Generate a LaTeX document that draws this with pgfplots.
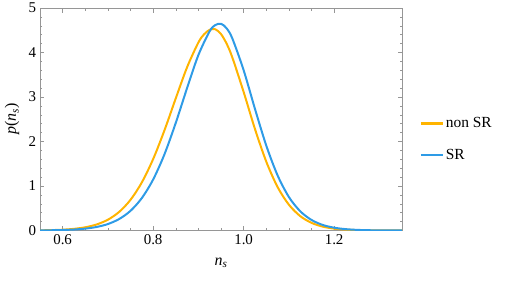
\documentclass[border=0pt]{standalone}
\usepackage{pgfplots}
\pgfplotsset{compat=1.18}
\usepackage{fontspec}
\setmainfont{Liberation Serif}
\definecolor{nonsr}{RGB}{255,180,0}
\definecolor{sr}{RGB}{46,155,230}
\definecolor{frame}{RGB}{150,150,150}
\begin{document}
\begin{tikzpicture}
\begin{axis}[
  scale only axis,
  width=362bp, height=222.5bp,
  at={(0,0)}, anchor=south west,
  xmin=0.55, xmax=1.35, ymin=0, ymax=5,
  xtick={0.6,0.8,1.0,1.2},
  xticklabels={0.6,0.8,1.0,1.2},
  minor x tick num=3,
  ytick={0,1,2,3,4,5},
  minor y tick num=4,
  tick align=inside,
  major tick length=4.5bp,
  minor tick length=2.5bp,
  axis line style={frame, line width=0.6pt},
  every tick/.style={frame, line width=0.5pt},
  /pgf/number format/assume math mode=true,
  tick label style={font=\fontsize{15}{17}\selectfont, text=black},
  xticklabel style={yshift=-1bp},
  yticklabel style={xshift=-0.5bp},
  xlabel={\textit{n}\textsubscript{\textit{s}}},
  ylabel={\textit{p}(\textit{n}\textsubscript{\textit{s}})},
  label style={font=\fontsize{16}{18}\selectfont},
  x label style={at={(axis description cs:0.5,-0.146)}, anchor=center},
  y label style={at={(axis description cs:-0.077,0.5)}, anchor=center, rotate=0},
  legend style={at={(rel axis cs:1.04,0.41)}, anchor=west, draw=none, fill=none,
    font=\fontsize{15.5}{17}\selectfont, row sep=16bp},
  legend cell align=left,
  legend image code/.code={\draw[#1, line width=2.2pt] (0bp,0bp) -- (22bp,0bp);},
]
\addplot[nonsr, line width=2pt, smooth] coordinates {
(0.55,0.004) (0.575,0.0088) (0.6,0.018) (0.625,0.037) (0.65,0.072) (0.675,0.135)
(0.7,0.242) (0.725,0.418) (0.75,0.689) (0.775,1.080) (0.8,1.604) (0.825,2.250)
(0.85,2.969) (0.875,3.668) (0.9,4.225) (0.9125,4.408) (0.925,4.511) (0.9375,4.522)
(0.95,4.414) (0.9625,4.197)
(0.975,3.890) (1.0,3.114) (1.025,2.283) (1.05,1.549) (1.075,0.978) (1.1,0.580)
(1.125,0.324) (1.15,0.172) (1.175,0.087) (1.2,0.042) (1.225,0.020) (1.25,0.009)
(1.275,0.004) (1.3,0.002) (1.35,0.0005)
};
\addlegendentry{non SR}
\addplot[sr, line width=2pt, smooth] coordinates {
(0.55,0.0027) (0.575,0.0055) (0.6,0.011) (0.625,0.0218) (0.65,0.042) (0.675,0.079)
(0.7,0.145) (0.725,0.258) (0.75,0.442) (0.775,0.728) (0.8,1.145) (0.825,1.711)
(0.85,2.418) (0.875,3.200) (0.9,3.942) (0.925,4.479) (0.9375,4.617) (0.95,4.646)
(0.9625,4.543)
(0.975,4.317) (1.0,3.603) (1.025,2.735) (1.05,1.910) (1.075,1.240) (1.1,0.753)
(1.125,0.433) (1.15,0.237) (1.175,0.124) (1.2,0.063) (1.225,0.031) (1.25,0.0145)
(1.275,0.0067) (1.3,0.003) (1.35,0.0006)
};
\addlegendentry{SR}
\end{axis}
\pgfresetboundingbox
\path (-40bp,-50.5bp) rectangle (466bp,230.5bp);
\end{tikzpicture}
\end{document}
